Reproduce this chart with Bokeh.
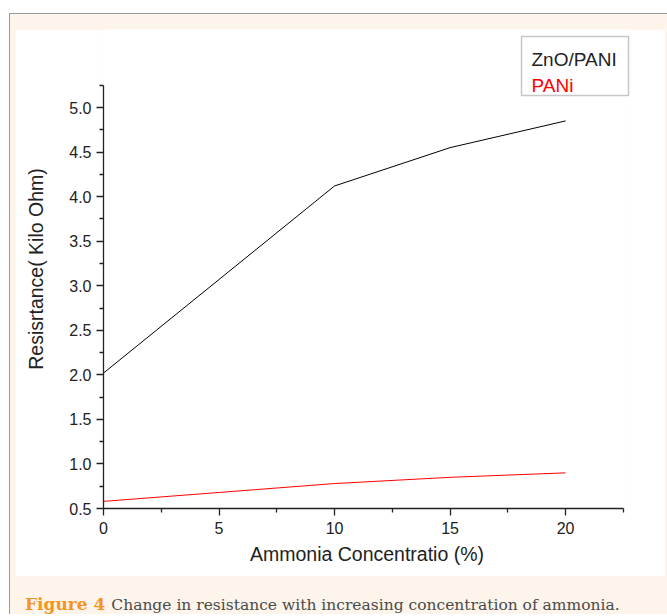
import math
from bokeh.plotting import figure
from bokeh.layouts import column
from bokeh.models import Range1d, FixedTicker, NumeralTickFormatter, BoxAnnotation, Label, Div
from bokeh.embed import file_html
from bokeh.resources import INLINE

# ---- data ----
concentration = [0, 5, 10, 15, 20]
zno_pani = [2.02, 3.07, 4.12, 4.55, 4.85]
pani = [0.58, 0.68, 0.78, 0.85, 0.90]
series_names = ["ZnO/PANI", "PANi"]
x_ticks = [0, 5, 10, 15, 20]
x_minor = [2.5, 7.5, 12.5, 17.5, 22.5]
y_ticks = [0.5, 1.0, 1.5, 2.0, 2.5, 3.0, 3.5, 4.0, 4.5, 5.0]
y_minor = [0.75, 1.25, 1.75, 2.25, 2.75, 3.25, 3.75, 4.25, 4.75, 5.25]
x_label = "Ammonia Concentratio (%)"
y_label = "Resisrtance( Kilo Ohm)"
caption_bold = "Figure 4"
caption_text = "Change in resistance with increasing concentration of ammonia."

SANS = "Liberation Sans"
SERIF = "DejaVu Serif"
BEIGE = "#fdf5eb"

# main panel (white), canvas origin at page (15, 29)
p = figure(width=650, height=547,
           min_border_left=88, min_border_right=35,
           min_border_top=0, min_border_bottom=68,
           x_range=Range1d(0, 22.81), y_range=Range1d(0.5, 5.876),
           output_backend="svg", toolbar_location=None,
           margin=(15, 2, 0, 5))
p.border_fill_color = "white"
p.background_fill_color = "white"
p.outline_line_color = None
p.grid.visible = False

p.line(concentration, zno_pani, line_color="black", line_width=1)
p.line(concentration, pani, line_color="red", line_width=1)

for ax in (p.xaxis[0], p.yaxis[0]):
    ax.axis_line_color = "#222222"
    ax.axis_line_width = 1.3
    ax.major_tick_line_color = "#222222"
    ax.minor_tick_line_color = "#222222"
    ax.major_tick_line_width = 1.3
    ax.minor_tick_line_width = 1.3
    ax.major_tick_in = 0
    ax.major_tick_out = 7
    ax.minor_tick_in = 0
    ax.minor_tick_out = 4
    ax.major_label_text_font = SANS
    ax.major_label_text_font_size = "16px"
    ax.major_label_text_color = "#222222"
    ax.axis_label_text_font = SANS
    ax.axis_label_text_font_size = "19.5px"
    ax.axis_label_text_font_style = "normal"
    ax.axis_label_text_color = "#222222"

p.xaxis.bounds = (0, 22.5)
p.yaxis.bounds = (0.5, 5.25)
p.xaxis.ticker = FixedTicker(ticks=x_ticks, minor_ticks=x_minor)
p.yaxis.ticker = FixedTicker(ticks=y_ticks, minor_ticks=y_minor)
p.yaxis.formatter = NumeralTickFormatter(format="0.0")
p.xaxis.major_label_standoff = 6
p.yaxis.major_label_standoff = 5
p.xaxis.axis_label = x_label
p.xaxis.axis_label_standoff = 6
p.yaxis.axis_label = y_label
p.yaxis.axis_label_standoff = 19

# legend box
p.add_layout(BoxAnnotation(left=506, right=613, top=7, bottom=66,
                           left_units="canvas", right_units="canvas",
                           top_units="canvas", bottom_units="canvas",
                           fill_color="white", fill_alpha=1,
                           line_color="#444444", line_width=1.5))
p.add_layout(Label(x=516, y=30, x_units="canvas", y_units="canvas",
                   text=series_names[0], text_align="left",
                   text_baseline="alphabetic", text_font=SANS,
                   text_font_size="19px", text_color="#222222"))
p.add_layout(Label(x=516, y=56, x_units="canvas", y_units="canvas",
                   text=series_names[1], text_align="left",
                   text_baseline="alphabetic", text_font=SANS,
                   text_font_size="19px", text_color="red"))

# caption strip (beige)
cap_html = ('<span style="color:#f7941d;font-weight:bold;font-size:17px;">%s</span>'
            '<span style="display:inline-block;width:6px;"></span>'
            '<span>%s</span>') % (caption_bold, caption_text)
cap = Div(text=cap_html, width=650, height=38, margin=(0, 2, 0, 5),
          styles={"font-family": SERIF, "font-size": "15.5px",
                  "color": "#4a4a4a", "padding-top": "16px",
                  "padding-left": "10px", "white-space": "nowrap",
                  "background-color": BEIGE})

root = column(p, cap, spacing=0, margin=(13, 0, 0, 9),
              styles={"background-color": BEIGE,
                      "border-top": "1px solid #9a9a9a",
                      "border-left": "1px solid #9a9a9a"})

open("out.html", "w").write(file_html(root, INLINE))
